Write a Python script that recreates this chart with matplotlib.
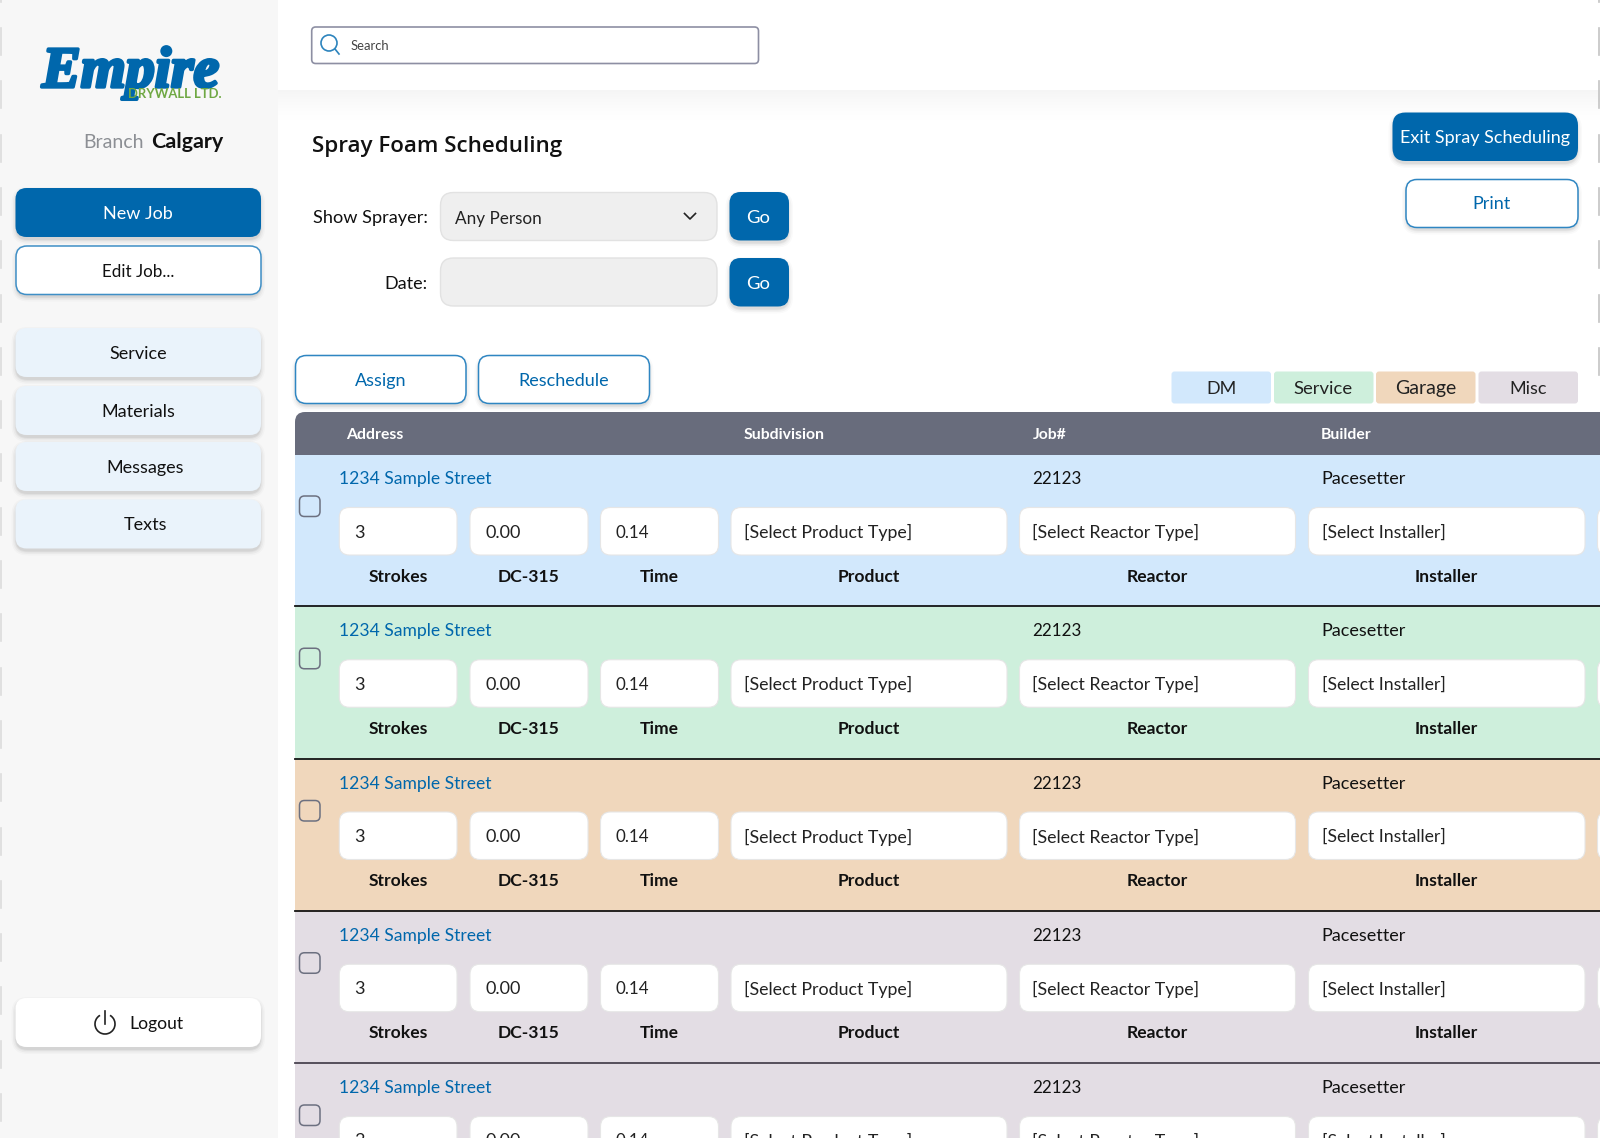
import matplotlib
matplotlib.use("Agg")
import matplotlib.pyplot as plt
from matplotlib.patches import FancyBboxPatch, Rectangle, Circle, Arc
import matplotlib.patheffects as pe

FONT = "Lato"
BLUE = "#0067ac"

row_colors = ["#d2e8fc", "#ceefdc", "#f0d7bc", "#e3dde4", "#e3dde4"]
row_address = "1234 Sample Street"
row_job = "22123"
row_builder = "Pacesetter"
header_labels = ["Address", "Subdivision", "Job#", "Builder"]
input_values = ["3", "0.00", "0.14", "[Select Product Type]", "[Select Reactor Type]", "[Select Installer]", ""]
input_sizes = [18, 18, 17, 17.7, 17.7, 17.6, 18]
input_labels = ["Strokes", "DC-315", "Time", "Product", "Reactor", "Installer", ""]
legend_labels = ["DM", "Service", "Garage", "Misc"]
legend_colors = ["#d2e8fc", "#ceefdc", "#f0d7bc", "#e3dde4"]
legend_sizes = [18, 18.5, 19.5, 18]
nav_labels = ["Service", "Materials", "Messages", "Texts"]

fig = plt.figure(figsize=(16, 11.38), dpi=100)
ax = fig.add_axes([0, 0, 1, 1])
ax.set_xlim(0, 1600)
ax.set_ylim(1138, 0)
ax.axis("off")


def T(x, y, s, px, color="#111111", weight="normal", ha="left", family=FONT, **kw):
    return ax.text(x, y + 1, s, fontsize=px * 0.72, color=color, fontweight=weight, ha=ha,
                   va="center", family=family, clip_on=True, zorder=10, **kw)


def box(x0, y0, x1, y1, r=10, fc="white", ec="none", lw=0, shadow=False, z=3):
    if shadow:
        for i, a in zip((5, 3.5, 2, 1), (0.02, 0.03, 0.04, 0.05)):
            ax.add_patch(FancyBboxPatch((x0 - i + 1, y0 - i + 4), x1 - x0 + 2 * i - 2, y1 - y0 + 2 * i - 2,
                                        boxstyle=f"round,pad=0,rounding_size={r + i}",
                                        fc="#000000", ec="none", alpha=a, zorder=z - 0.5))
    ax.add_patch(FancyBboxPatch((x0, y0), x1 - x0, y1 - y0, boxstyle=f"round,pad=0,rounding_size={r}",
                                fc=fc, ec=ec, lw=lw, zorder=z))


# page edges
ax.add_patch(Rectangle((0, 0), 278, 1138, fc="#f7f7f7", ec="none", zorder=1))
for k in range(-1, 22):
    y = 28 + 53.3 * k
    ax.plot([0.7, 0.7], [y, y + 27], color="#dcdcdc", lw=1.2, zorder=2)
    if y < 400:
        ax.plot([1599.3, 1599.3], [y, y + 27], color="#c4c4c4", lw=1.2, zorder=2)

# header shadow band
for i in range(34):
    ax.add_patch(Rectangle((278, 90 + i), 1322, 1.2, fc="#000000", ec="none",
                           alpha=0.04 * (1 - i / 34) ** 1.5, zorder=1))

# logo
T(42, 72, "Empire", 58, color=BLUE, weight="bold", family="Liberation Serif", style="italic",
  path_effects=[pe.withStroke(linewidth=2.4, foreground=BLUE)])
T(128, 93, "DRYWALL LTD.", 13, color="#6fa843", weight="bold")
T(83.5, 141, "Branch", 19.5, color="#8c8f94")
T(151.5, 141, "Calgary", 21.5, color="#111111", weight="bold")

# side buttons
box(15.5, 188, 261, 237, r=11, fc=BLUE, shadow=True)
T(138, 212.5, "New Job", 18, color="white", ha="center")
box(16, 246, 261, 294.5, r=11, fc="white", ec="#3f8fc6", lw=1.1, shadow=True)
T(138, 270.5, "Edit Job...", 17, ha="center")
nav_y = [352.5, 410.5, 466.5, 524]
nav_x = [138, 138, 145, 145]
for lab, yc, xc in zip(nav_labels, nav_y, nav_x):
    box(15.5, yc - 24.5, 261, yc + 24.5, r=11, fc="#eaf3fb", shadow=True)
    T(xc, yc, lab, 18, ha="center")
box(15.5, 998, 261, 1047, r=11, fc="white", shadow=True)
ax.add_patch(Arc((105, 1024), 20, 20, theta1=-60, theta2=240, angle=0, color="#222222", lw=1.2, zorder=10))
ax.plot([105, 105], [1011, 1024], color="#222222", lw=1.2, zorder=10)
T(129.5, 1023, "Logout", 17.5)

# search
box(311.7, 27, 758.5, 63.5, r=4, fc="white", ec="#8d8fa3", lw=1.2)
ax.add_patch(Circle((329, 43), 8, fc="none", ec="#2d84bd", lw=1.2, zorder=10))
ax.plot([335, 339], [49, 54], color="#2d84bd", lw=1.2, zorder=10)
T(351, 45, "Search", 13, color="#444444")

# title and filter form
T(312.5, 145, "Spray Foam Scheduling", 22.4, weight="semibold", family="Open Sans")
T(427.5, 216.5, "Show Sprayer:", 18.2, ha="right")
T(427.5, 282.5, "Date:", 18, ha="right")
box(440.5, 192.5, 717, 240.5, r=13, fc="#efefef", ec="#e2e2e2", lw=1)
box(440.5, 258, 717, 306, r=13, fc="#efefef", ec="#e2e2e2", lw=1)
T(455, 217.5, "Any Person", 17.1, color="#222222")
ax.plot([684.5, 690, 695.5], [213.5, 219, 213.5], color="#222222", lw=1.2, zorder=10)
for y0, y1 in ((192, 240.5), (258, 306.5)):
    box(729.5, y0, 789, y1, r=11, fc=BLUE, shadow=True)
    T(758.5, (y0 + y1) / 2 + 0.5, "Go", 18.5, color="white", ha="center")

# action buttons
for x0, x1, lab, xc in ((295.5, 466, "Assign", 381), (478.5, 649.5, "Reschedule", 563.5)):
    box(x0, 355.5, x1, 403.5, r=11, fc="white", ec="#2f86c2", lw=1.1, shadow=True)
    T(xc, 379.5, lab, 18, color=BLUE, ha="center")
box(1392.5, 112.5, 1578, 161, r=13, fc=BLUE, shadow=True)
T(1484.5, 136.5, "Exit Spray Scheduling", 18, color="white", ha="center")
box(1406, 179.5, 1578, 227.5, r=11, fc="white", ec="#2f86c2", lw=1.1, shadow=True)
T(1491.5, 202.5, "Print", 18, color=BLUE, ha="center")

# legend chips
legend_x = [1171.5, 1274, 1376, 1478.5]
for x0, lab, col, sz in zip(legend_x, legend_labels, legend_colors, legend_sizes):
    box(x0, 371.5, x0 + 99.5, 403.5, r=3, fc=col)
    T(x0 + 49.5, 387.5, lab, sz, color="#222222", ha="center")

# table header
box(295, 412, 1640, 470, r=10, fc="#686c7c", z=2)
ax.add_patch(Rectangle((295, 440), 1310, 15, fc="#686c7c", ec="none", zorder=2.1))
header_x = [346, 744, 1033, 1321]
for x, lab in zip(header_x, header_labels):
    T(x, 433.5, lab, 15.8, color="white", weight="bold")

# rows
inputs_x0 = [339.3, 470, 600.5, 731, 1019.5, 1308.5, 1597.5]
inputs_x1 = [457, 588, 718.5, 1007, 1295.5, 1585, 1640]
value_x = [354.5, 485.5, 616, 744, 1032.5, 1322, 1610]
pitch = 152.25
for i, col in enumerate(row_colors):
    top = 455 + i * pitch
    ax.add_patch(Rectangle((295, top), 1305, pitch, fc=col, ec="none", zorder=2))
    if i < 4:
        line = "#141414" if i < 3 else "#4a4450"
        ax.plot([295, 1600], [top + pitch - 1] * 2, color=line, lw=1.3, zorder=2.5)
    box(299.5, top + 41, 320, top + 61.5, r=5, fc="none", ec="#6c7080", lw=1.1)
    T(339, top + 23, row_address, 17.5, color=BLUE)
    T(1032.5, top + 23, row_job, 17)
    T(1321.5, top + 23, row_builder, 18)
    for x0, x1, vx, val, sz, lab in zip(inputs_x0, inputs_x1, value_x, input_values, input_sizes, input_labels):
        box(x0, top + 52.5, x1, top + 100, r=10, fc="white", ec="#e6e6e6", lw=0.8)
        if val:
            T(vx, top + 76.5, val, sz, color="#222222")
        if lab:
            T((x0 + x1) / 2, top + 120.5, lab, 17.5, weight="bold", ha="center")

fig.savefig("out.png", dpi=100)
